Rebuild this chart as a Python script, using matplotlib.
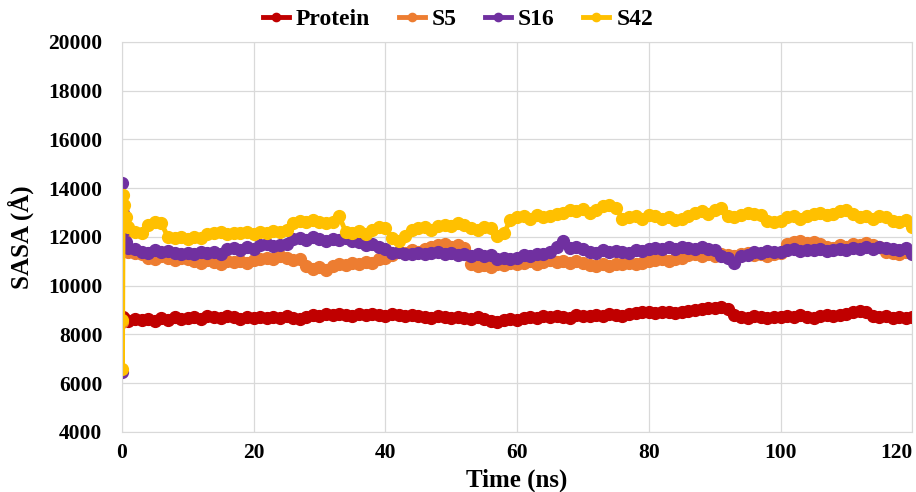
import matplotlib.pyplot as plt

plt.rcParams['font.family'] = ['Liberation Serif', 'DejaVu Serif']
plt.rcParams['font.weight'] = 'bold'

# time points (ns): the first few are the start-up spike
time = [0, 0.1, 0.2, 0.4, 0.6] + list(range(1, 121))

protein = [8550, 8600, 8700, 8650, 8600,
           8550, 8650, 8580, 8620, 8540, 8660, 8600, 8700, 8620, 8680,
           8720, 8650, 8750, 8700, 8680, 8760, 8700, 8640, 8720, 8680,
           8700, 8660, 8720, 8680, 8740, 8690, 8650, 8720,
           8800, 8760, 8820, 8780, 8850, 8800, 8760,
           8820, 8780, 8840, 8800, 8760, 8820,
           8780, 8740, 8800, 8760,
           8720, 8680, 8740, 8700, 8660, 8720, 8680, 8640, 8700, 8620,
           8560, 8520, 8580, 8620, 8600,
           8680, 8720, 8660, 8740, 8700, 8760, 8720, 8680, 8800, 8760,
           8740, 8800, 8760, 8820, 8780, 8740, 8820, 8860, 8900,
           8920, 8880, 8940, 8900, 8860, 8920,
           8980, 9020, 9060, 9100, 9080, 9120, 9040,
           8800, 8720, 8680, 8740, 8700, 8660, 8720, 8700,
           8760, 8700, 8780, 8720, 8680, 8760, 8800, 8740, 8780, 8820,
           8920, 8980, 8900,
           8760, 8700, 8740, 8660, 8720, 8680, 8700]

s5 = [8500, 12900, 12600, 12000, 11700,
      11400, 11350, 11300,
      11150, 11100, 11200, 11120, 11050, 11150, 11100,
      11000, 10950, 11050, 10980, 10900, 11020, 10960, 11000, 10940, 11050,
      11100, 11150, 11080, 11200, 11120, 11050, 11100,
      10800, 10700, 10780, 10650, 10820,
      10900, 10850, 10950, 10880, 10980, 10920,
      11100, 11150, 11250,
      11400, 11350, 11450, 11380,
      11500, 11600, 11650, 11700, 11600, 11680, 11550,
      10900, 10800, 10850, 10780,
      10900, 10850, 10950, 10880,
      10950, 11000, 10900, 10980, 11050, 10960, 11020, 10940, 11000, 10950,
      10850, 10800, 10900, 10820, 10880,
      10900, 10950, 10880, 10920, 11000,
      11050, 11100, 11000, 11080, 11150,
      11250, 11300, 11200, 11280, 11220, 11300, 11250, 11200, 11280, 11320,
      11250, 11300, 11220, 11280, 11350,
      11700, 11800, 11850, 11750, 11800, 11700,
      11600, 11550, 11650, 11600,
      11700, 11650, 11750, 11650, 11600,
      11400, 11350, 11300, 11380, 11320]

s16 = [6450, 14200, 13000, 12300, 11800,
       11550, 11500,
       11400, 11350, 11450, 11380, 11420, 11350,
       11300, 11350, 11280, 11380, 11320, 11400, 11300,
       11500, 11550, 11480, 11600, 11520,
       11650, 11700, 11620, 11680, 11700,
       11900, 11950, 11880, 11980, 11900,
       11850, 11920, 11880, 11950, 11850, 11800,
       11650, 11700, 11600, 11500,
       11350, 11400, 11300,
       11300, 11350, 11280, 11320, 11380, 11300, 11340,
       11250, 11300, 11220, 11280, 11200, 11250,
       11100, 11150, 11080, 11150,
       11250, 11200, 11300, 11280, 11400,
       11600, 11850, 11550, 11600, 11500,
       11400, 11350, 11450, 11380, 11420, 11400, 11350, 11450, 11420, 11500,
       11550, 11500, 11600, 11520, 11580, 11550, 11500, 11600, 11520, 11450,
       11200, 11150, 10950, 11200, 11250,
       11400, 11350, 11420, 11380, 11400,
       11450, 11500, 11420, 11480, 11450, 11500, 11420, 11480, 11520, 11450,
       11550, 11500, 11600, 11520, 11580, 11550, 11500, 11450, 11550, 11300]

s42 = [8600, 6600, 13700, 13300, 12800,
       12400, 12200, 12150,
       12500, 12600, 12550,
       12000, 11950, 12000, 11900, 11980, 11950,
       12100, 12150, 12200, 12100, 12180, 12150, 12200, 12100,
       12200, 12150, 12250, 12200, 12300,
       12550, 12650, 12600, 12700, 12600,
       12550, 12600, 12850,
       12200, 12150, 12250, 12100,
       12300, 12400, 12350,
       11950, 11850, 12050,
       12300, 12350, 12400, 12300,
       12450, 12500, 12450, 12550, 12500,
       12350, 12300, 12400, 12350,
       12050, 12150,
       12700, 12800, 12850, 12750, 12900, 12800, 12850, 12950,
       13000, 13100, 13050, 13150, 13000, 13100,
       13250, 13300, 13200,
       12750, 12800, 12850, 12750, 12900,
       12850, 12750, 12800, 12700, 12750, 12850,
       13000, 13050, 12950, 13100, 13200,
       12850, 12800, 12900,
       13000, 12950, 12900,
       12650, 12600, 12650,
       12800, 12850, 12750, 12850,
       12950, 13000, 12900, 12950,
       13050, 13100, 12950,
       12800, 12850, 12750, 12850, 12800,
       12650, 12600, 12700, 12400]

series = [("Protein", protein, "#C00000"),
          ("S5", s5, "#ED7D31"),
          ("S16", s16, "#7030A0"),
          ("S42", s42, "#FFC000")]

fig = plt.figure(figsize=(9.16, 4.92), dpi=100)
ax = fig.add_axes([0.133, 0.122, 0.863, 0.793])

for name, vals, col in series:
    ax.plot(time, vals, color=col, lw=3.5, marker='o', ms=8.5,
            mec=col, mfc=col, label=name)

ax.set_xlim(0, 120)
ax.set_ylim(4000, 20000)
ax.set_xticks(range(0, 121, 20))
ax.set_yticks(range(4000, 20001, 2000))
ax.grid(True, color='#D9D9D9', lw=0.9)
ax.set_axisbelow(True)
for sp in ax.spines.values():
    sp.set_color('#D9D9D9')
ax.tick_params(length=0, labelsize=15.5)
ax.tick_params(axis='x', pad=8)
ax.tick_params(axis='y', pad=14)
ax.get_xticklabels()[-1].set_horizontalalignment('right')
ax.set_xlabel("Time (ns)", fontsize=18, fontweight='bold', labelpad=4)
ax.set_ylabel("SASA (Å)", fontsize=18, fontweight='bold', labelpad=10)

fig.legend(loc='upper center', bbox_to_anchor=(0.5, 1.025), ncol=4,
           frameon=False, fontsize=17, handlelength=1.1, columnspacing=1.2,
           handletextpad=0.3, markerscale=0.7)

fig.savefig("out.png", dpi=100)
